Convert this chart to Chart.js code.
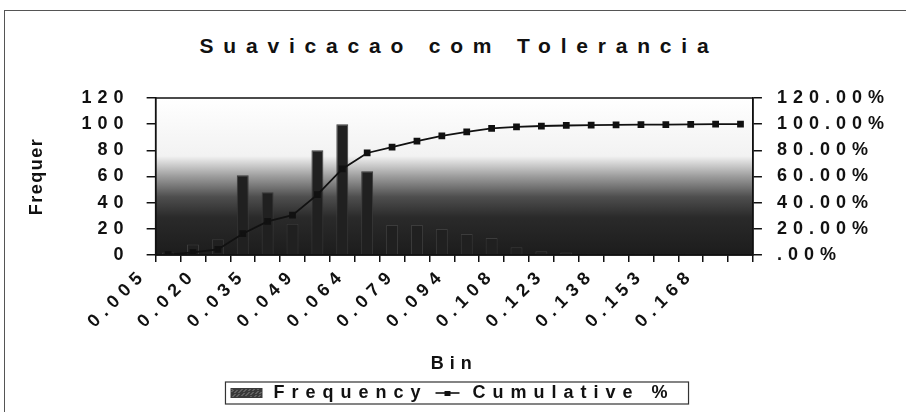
<!DOCTYPE html>
<html lang="pt">
<head>
<meta charset="UTF-8">
<title>Suavicacao com Tolerancia</title>
<style>
  html, body { margin: 0; padding: 0; background: #fff; }
  body { width: 906px; height: 412px; overflow: hidden; position: relative; font-family: "Liberation Sans", Arial, sans-serif; }
  .frame { position: absolute; left: 4px; top: 10px; width: 920px; height: 420px; border: 1px solid #555; }
  #title { position: absolute; left: 0; top: 34px; width: 918px; text-align: center; font-weight: bold; font-size: 21px; letter-spacing: 9.8px; color: #111; }
  #chart { position: absolute; left: 0; top: 0; }
</style>
<script src="https://cdn.jsdelivr.net/npm/chart.js"></script>
</head>
<body>
<div class="frame"></div>
<div id="title">Suavicacao com Tolerancia</div>
<canvas id="chart" width="906" height="412"></canvas>
<script>
// bins (upper limits); only every other one is labelled
const bins = ["0.005", "0.012", "0.020", "0.027", "0.035", "0.042", "0.049", "0.057",
  "0.064", "0.071", "0.079", "0.086", "0.094", "0.101", "0.108", "0.116",
  "0.123", "0.130", "0.138", "0.145", "0.153", "0.160", "0.168", "0.175"];
const frequency = [2, 8, 12, 61, 48, 24, 80, 100, 64, 23, 23, 20, 16, 13, 6, 3, 2, 1, 1, 1, 0, 1, 0, 0];
const cumulativePct = [0.4, 2.0, 4.3, 16.3, 25.7, 30.5, 46.2, 65.8, 78.0, 82.5, 87.0, 91.0,
  94.2, 96.8, 98.0, 98.6, 99.0, 99.2, 99.4, 99.6, 99.6, 99.8, 100, 100];
const freqMax = 120;
const pctMax = 120;
const tickStep = 20;

const ink = "#111";
const font = { family: "'Liberation Sans', Arial, sans-serif", size: 18, weight: "bold" };
const SPACING = "6px";
const LEGEND_SHIFT = -9; // the legend sits a little left of centre in the original

// legend swatches, drawn inside a 36px slot
function swatch(kind) {
  const c = document.createElement("canvas");
  c.width = 36; c.height = 12;
  const g = c.getContext("2d");
  if (kind === "bar") {
    g.fillStyle = "#3a3a3a";
    g.fillRect(2, 1, 32, 10);
    g.fillStyle = "#8a8a8a";
    for (let i = 0; i < 44; i++) g.fillRect(3 + (i * 7) % 30, 2 + (i * 3) % 8, 1, 1);
  } else {
    g.strokeStyle = ink; g.lineWidth = 1.6;
    g.beginPath(); g.moveTo(8, 6); g.lineTo(32, 6); g.stroke();
    g.fillStyle = ink; g.fillRect(17, 4, 6, 5);
  }
  return c;
}

function withSpacing(obj, name, value, dx) {
  const base = obj[name];
  obj[name] = function () {
    const c = this.ctx, old = c.letterSpacing;
    c.save();
    if (dx) c.translate(dx, 0);
    c.letterSpacing = value;
    const out = base.apply(this, arguments);
    c.restore();
    c.letterSpacing = old;
    return out;
  };
}

const look = {
  id: "look",
  beforeUpdate(chart) {
    chart.ctx.letterSpacing = SPACING;
    const lg = chart.legend;
    if (lg && !lg._spaced) {
      withSpacing(lg, "fit", "7px");
      withSpacing(lg, "draw", "7px", LEGEND_SHIFT);
      lg._spaced = true;
    }
  },
  afterLayout(chart) {
    // the y title in the original is set tighter than the other texts
    const ys = chart.scales.y;
    if (ys && !ys._tight) {
      withSpacing(ys, "drawTitle", "1.5px");
      ys._tight = true;
    }
  },
  beforeDraw(chart) {
    const { ctx, chartArea: a } = chart;
    ctx.letterSpacing = SPACING;
    // plot area fill: white on top fading into a dark texture
    const gr = ctx.createLinearGradient(0, a.top, 0, a.bottom);
    gr.addColorStop(0, "#ffffff");
    gr.addColorStop(0.37, "#f2f2f2");
    gr.addColorStop(0.5, "#9c9c9c");
    gr.addColorStop(0.63, "#4e4e4e");
    gr.addColorStop(0.76, "#2a2a2a");
    gr.addColorStop(1, "#1c1c1c");
    ctx.save();
    ctx.fillStyle = gr;
    ctx.fillRect(a.left, a.top, a.right - a.left, a.bottom - a.top);
    ctx.restore();
  },
  beforeDatasetsDraw(chart) {
    const { ctx, chartArea: a } = chart;
    ctx.save();
    ctx.strokeStyle = ink; ctx.lineWidth = 1.5;
    ctx.strokeRect(a.left, a.top, a.right - a.left, a.bottom - a.top);
    ctx.restore();
  },
  afterDraw(chart) {
    const boxes = chart.legend.legendHitBoxes;
    if (!boxes || !boxes.length) return;
    const l = Math.min(...boxes.map(b => b.left)) - 3 + LEGEND_SHIFT;
    const r = Math.max(...boxes.map(b => b.left + b.width)) + 14 + LEGEND_SHIFT;
    const t = Math.min(...boxes.map(b => b.top)) - 2;
    const btm = Math.max(...boxes.map(b => b.top + b.height)) + 2;
    const ctx = chart.ctx;
    ctx.save();
    ctx.strokeStyle = "#333"; ctx.lineWidth = 1.2;
    ctx.strokeRect(l, t, r - l, btm - t);
    ctx.restore();
  }
};

new Chart(document.getElementById("chart"), {
  data: {
    labels: bins,
    datasets: [
      {
        type: "line",
        label: "Cumulative %",
        data: cumulativePct,
        yAxisID: "y2",
        borderColor: ink,
        backgroundColor: ink,
        borderWidth: 1.8,
        pointStyle: "rect",
        pointRadius: 3.5,
        pointBackgroundColor: ink,
        tension: 0,
        order: 0
      },
      {
        type: "bar",
        label: "Frequency",
        data: frequency,
        yAxisID: "y",
        backgroundColor: "#202020",
        borderColor: "#3c3c3c",
        borderWidth: 1,
        barPercentage: 0.48,
        categoryPercentage: 1,
        order: 1
      }
    ]
  },
  options: {
    responsive: false,
    devicePixelRatio: 1,
    animation: false,
    layout: { padding: { top: 98, left: 16, right: 1, bottom: 0 } },
    plugins: {
      title: { display: false },
      tooltip: { enabled: false },
      legend: {
        position: "bottom",
        reverse: true,
        labels: {
          color: ink,
          font: font,
          usePointStyle: true,
          pointStyleWidth: 36,
          padding: 0,
          generateLabels: (chart) => chart.data.datasets.map((ds, i) => ({
            text: ds.label,
            datasetIndex: i,
            pointStyle: swatch(ds.type),
            fontColor: ink,
            lineWidth: 0,
            strokeStyle: "transparent",
            fillStyle: "transparent"
          }))
        }
      }
    },
    scales: {
      x: {
        grid: { drawOnChartArea: false, offset: true, tickLength: 7, color: ink, lineWidth: 1.5 },
        border: { color: ink, width: 1.5 },
        ticks: {
          color: ink, font: font, autoSkip: false, maxRotation: 45, minRotation: 45,
          labelOffset: -24, padding: 2,
          callback: (v, i) => (i % 2 === 0 ? bins[i] : "")
        },
        title: { display: true, text: "Bin", color: ink, font: font, padding: { top: 19, bottom: 9 } }
      },
      y: {
        position: "left",
        min: 0, max: freqMax,
        grid: { drawOnChartArea: false, tickLength: 9, color: ink, lineWidth: 1.5 },
        border: { color: ink, width: 1.5 },
        ticks: { stepSize: tickStep, color: ink, font: font, padding: 17 },
        title: { display: true, text: "Frequer", color: ink, font: font, padding: { top: 10, bottom: 17 } }
      },
      y2: {
        position: "right",
        min: 0, max: pctMax,
        grid: { drawOnChartArea: false, tickLength: 9, color: ink, lineWidth: 1.5 },
        border: { color: ink, width: 1.5 },
        ticks: {
          stepSize: tickStep, color: ink, font: font, padding: 15,
          callback: (v) => (v === 0 ? ".00%" : v.toFixed(2) + "%")
        }
      }
    }
  },
  plugins: [look]
});
</script>
</body>
</html>
